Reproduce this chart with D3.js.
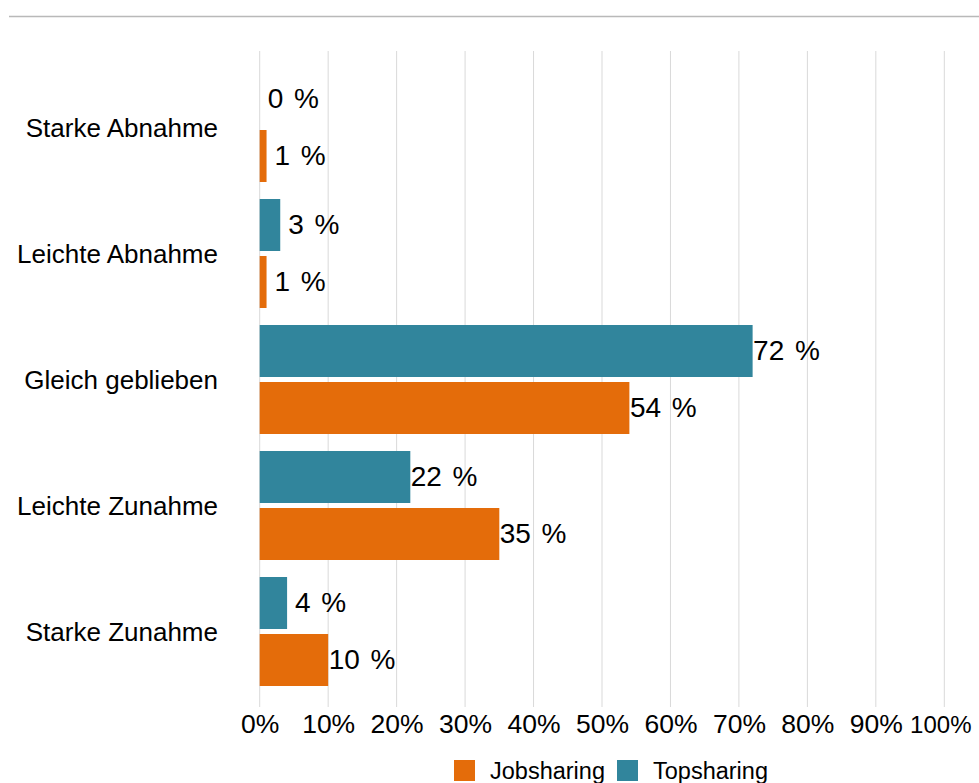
<!DOCTYPE html>
<html>
<head>
<meta charset="utf-8">
<script src="https://cdn.jsdelivr.net/npm/d3@7"></script>
<style>
  html, body { margin: 0; padding: 0; background: #fff; }
  svg { display: block; font-family: "Liberation Sans", Arial, Helvetica, sans-serif; }
</style>
</head>
<body>
<svg id="chart" width="979" height="783"></svg>
<script>
// --- Daten ---
const categories = ["Starke Abnahme", "Leichte Abnahme", "Gleich geblieben", "Leichte Zunahme", "Starke Zunahme"];
const series = ["Topsharing", "Jobsharing"];
const topsharing = [0, 3, 72, 22, 4];
const jobsharing = [1, 1, 54, 35, 10];
const ticks = [0, 10, 20, 30, 40, 50, 60, 70, 80, 90, 100];
const legendOrder = ["Jobsharing", "Topsharing"];

const colors = { Jobsharing: "#e46c0a", Topsharing: "#31859c" };
const values = { Topsharing: topsharing, Jobsharing: jobsharing };

const svg = d3.select("#chart");

// Linie oben
svg.append("line")
    .attr("x1", 9).attr("x2", 979)
    .attr("y1", 16.5).attr("y2", 16.5)
    .attr("stroke", "#b9b9b9")
    .attr("stroke-width", 1.5);

const x = d3.scaleLinear()
    .domain([0, 100])
    .range([259.7, 944.3]);

const y = d3.scaleBand()
    .domain(categories)
    .range([64.5, 694.5]);

const ySub = d3.scaleBand()
    .domain(series)
    .range([8.5, y.bandwidth() - 8.5])
    .paddingInner(5 / 57);

// Gitterlinien
svg.append("g")
    .selectAll("line")
    .data(ticks)
    .enter()
    .append("line")
    .attr("x1", d => x(d)).attr("x2", d => x(d))
    .attr("y1", 51).attr("y2", 707)
    .attr("stroke", "#d9d9d9")
    .attr("stroke-width", 1);

// Achse unten (nur Beschriftung)
const xAxis = svg.append("g")
    .attr("transform", "translate(0,707)")
    .call(d3.axisBottom(x).tickValues(ticks).tickFormat(d => d + "%").tickSize(0).tickPadding(25.5));
xAxis.select(".domain").remove();
xAxis.selectAll("text")
    .attr("font-family", "Liberation Sans, Arial, sans-serif")
    .attr("font-size", 26.5)
    .attr("fill", "#000")
    .attr("dy", 0);
// "100%" etwas kleiner, damit es ins Bild passt
xAxis.selectAll("text").filter(d => d === 100)
    .attr("x", -4)
    .attr("font-size", 24);

// Kategorien links
svg.append("g")
    .selectAll("text")
    .data(categories)
    .enter()
    .append("text")
    .attr("x", 218)
    .attr("y", d => y(d) + y.bandwidth() / 2)
    .attr("dy", "0.35em")
    .attr("text-anchor", "end")
    .attr("font-size", 26)
    .attr("fill", "#000")
    .text(d => d);

// Balken
const rows = [];
categories.forEach((c, i) => {
    series.forEach(s => rows.push({ cat: c, series: s, value: values[s][i] }));
});

const g = svg.append("g");

g.selectAll("rect")
    .data(rows)
    .enter()
    .append("rect")
    .attr("x", x(0))
    .attr("y", d => y(d.cat) + ySub(d.series))
    .attr("width", d => x(d.value) - x(0))
    .attr("height", ySub.bandwidth())
    .attr("fill", d => colors[d.series]);

const labels = g.selectAll("text")
    .data(rows)
    .enter()
    .append("text")
    .attr("x", d => x(d.value) + (d.value < 10 ? 8 : 0.5))
    .attr("y", d => y(d.cat) + ySub(d.series) + ySub.bandwidth() / 2)
    .attr("dy", "0.32em")
    .attr("font-size", 28)
    .attr("fill", "#000")
    .text(d => d.value);
labels.append("tspan")
    .attr("dx", "0.38em")
    .text("%");

// Legende
const legend = svg.append("g");
const legendX = [454, 617];
legendOrder.forEach((s, i) => {
    legend.append("rect")
        .attr("x", legendX[i]).attr("y", 760)
        .attr("width", 21).attr("height", 21)
        .attr("fill", colors[s]);
    legend.append("text")
        .attr("x", legendX[i] + 36).attr("y", 778.5)
        .attr("font-size", 23.5)
        .attr("fill", "#000")
        .text(s);
});
</script>
</body>
</html>
